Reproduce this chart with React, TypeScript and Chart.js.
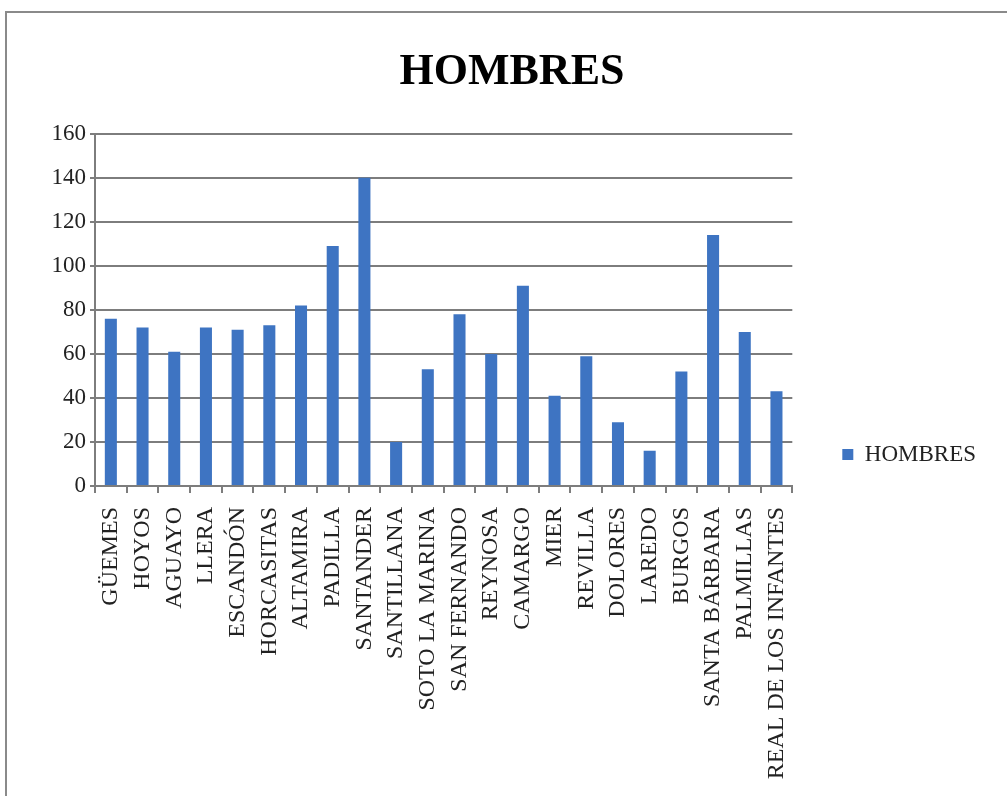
import React, { useEffect, useRef } from "react";
import { Chart, registerables } from "chart.js";

Chart.register(...registerables);

const categories = [
  "GÜEMES",
  "HOYOS",
  "AGUAYO",
  "LLERA",
  "ESCANDÓN",
  "HORCASITAS",
  "ALTAMIRA",
  "PADILLA",
  "SANTANDER",
  "SANTILLANA",
  "SOTO LA MARINA",
  "SAN FERNANDO",
  "REYNOSA",
  "CAMARGO",
  "MIER",
  "REVILLA",
  "DOLORES",
  "LAREDO",
  "BURGOS",
  "SANTA BÁRBARA",
  "PALMILLAS",
  "REAL DE LOS INFANTES",
];
const hombres = [76, 72, 61, 72, 71, 73, 82, 109, 140, 20, 53, 78, 60, 91, 41, 59, 29, 16, 52, 114, 70, 43];
const seriesName = "HOMBRES";
const chartTitle = "HOMBRES";
const yMin = 0;
const yMax = 160;
const yStep = 20;

const FONT = "'Liberation Serif', 'Times New Roman', serif";
const GRID = "#7d7d7d";
const BAR = "#3E74C2";
const LEGEND_DY = 30;
const LEGEND_DX = 0;

export default function App() {
  const ref = useRef<HTMLCanvasElement | null>(null);

  useEffect(() => {
    if (!ref.current) return;
    const legendShift = {
      id: "legendShift",
      afterLayout(chart: any) {
        const l = chart.legend;
        if (l) {
          l.top += LEGEND_DY;
          l.bottom += LEGEND_DY;
          l.left += LEGEND_DX;
          l.right += LEGEND_DX;
        }
      },
    };
    const chart = new Chart(ref.current, {
      type: "bar",
      data: {
        labels: categories,
        datasets: [
          {
            label: seriesName,
            data: hombres,
            backgroundColor: BAR,
            borderWidth: 0,
            barPercentage: 0.38,
            categoryPercentage: 1,
          },
        ],
      },
      plugins: [legendShift],
      options: {
        animation: false,
        responsive: false,
        maintainAspectRatio: false,
        layout: { padding: { top: 20, left: 38, right: 21, bottom: 0 } },
        plugins: {
          title: {
            display: true,
            text: chartTitle,
            color: "#000",
            font: { family: FONT, size: 44, weight: "bold" },
            padding: { top: 26, bottom: 35 },
          },
          legend: {
            display: true,
            position: "right",
            align: "end",
            fullSize: false,
            labels: {
              boxWidth: 11,
              boxHeight: 11,
              padding: 50,
              color: "#222",
              font: { family: FONT, size: 23 },
            },
          },
          tooltip: { enabled: false },
        },
        scales: {
          x: {
            offset: true,
            grid: {
              display: true,
              drawOnChartArea: false,
              drawTicks: true,
              tickLength: 7,
              color: GRID,
              lineWidth: 2,
              offset: true,
            },
            border: { display: true, color: GRID, width: 2 },
            ticks: {
              autoSkip: false,
              maxRotation: 90,
              minRotation: 90,
              padding: 14,
              color: "#222",
              font: { family: FONT, size: 24 },
            },
            afterFit(scale: any) {
              scale.height = 310;
            },
          },
          y: {
            min: yMin,
            max: yMax,
            grid: {
              display: true,
              color: GRID,
              lineWidth: 2,
              drawTicks: true,
              tickLength: 5,
            },
            border: { display: true, color: GRID, width: 2 },
            ticks: {
              stepSize: yStep,
              padding: 4,
              color: "#222",
              font: { family: FONT, size: 23 },
            },
            afterFit(scale: any) {
              scale.width = 57;
            },
          },
        },
      },
    });
    return () => chart.destroy();
  }, []);

  return (
    <div style={{ position: "fixed", left: 0, top: 0, width: 1007, height: 796, background: "#fff", overflow: "hidden" }}>
      <div
        style={{
          position: "absolute",
          left: 5,
          top: 11,
          width: 1020,
          height: 820,
          borderTop: "2px solid #8a8a8a",
          borderLeft: "2px solid #8a8a8a",
        }}
      />
      <canvas ref={ref} width={1007} height={796} style={{ position: "absolute", left: 0, top: 0 }} />
    </div>
  );
}
